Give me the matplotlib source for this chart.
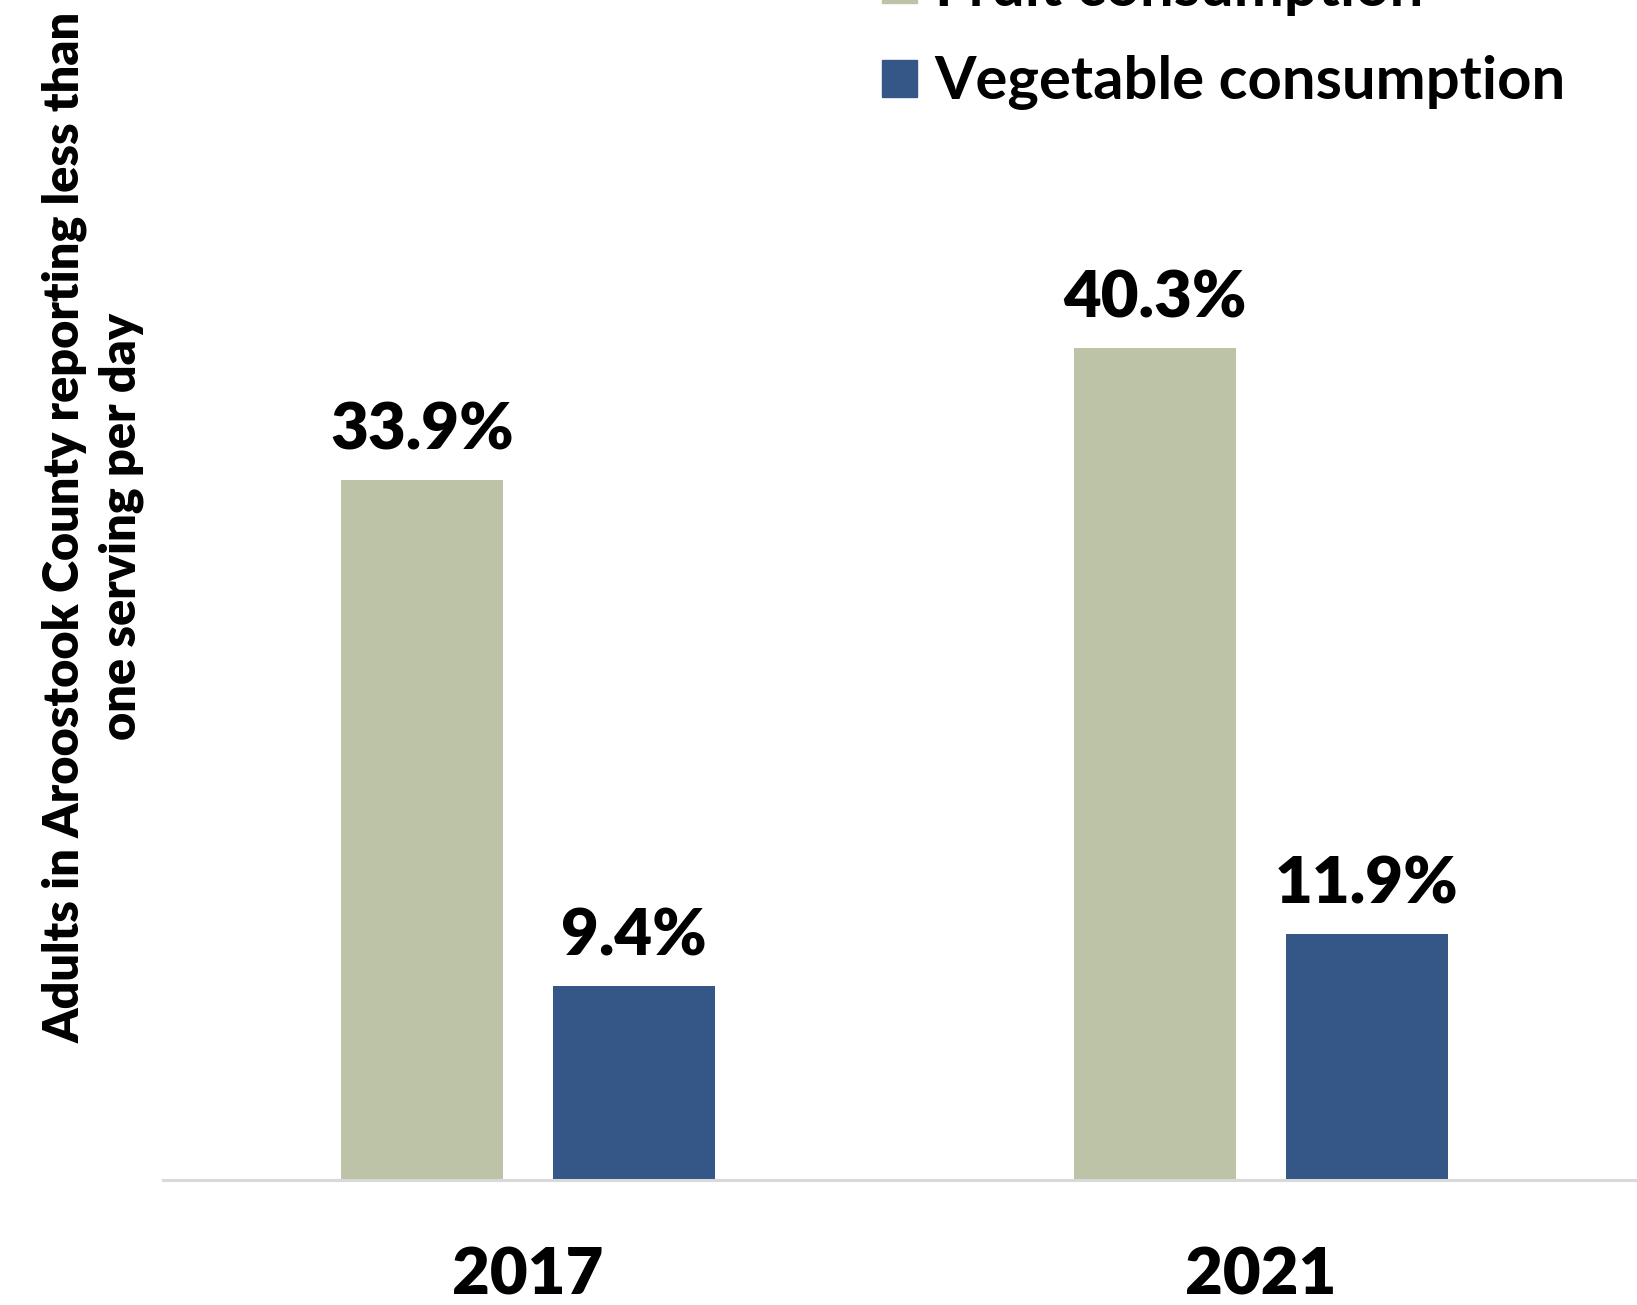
import matplotlib
matplotlib.use("Agg")
import matplotlib.pyplot as plt
from matplotlib.patches import Patch
import numpy as np

years = ["2017", "2021"]
series_names = ["Fruit consumption", "Vegetable consumption"]
fruit = [33.9, 40.3]
vegetable = [9.4, 11.9]
colors = ["#BCC3A6", "#345788"]

plt.rcParams["font.family"] = ["Lato", "DejaVu Sans"]
plt.rcParams["font.weight"] = "bold"

W, H = 1637, 1305
fig = plt.figure(figsize=(W / 100, H / 100), dpi=100)
ax = fig.add_axes([163 / W, 125 / H, 1 - 163 / W, 1 - 125 / H])

x = np.arange(len(years))
bw = 0.221
off = 0.1446
b1 = ax.bar(x - off, fruit, bw, color=colors[0])
b2 = ax.bar(x + off, vegetable, bw, color=colors[1])

for bars, vals in ((b1, fruit), (b2, vegetable)):
    for r, v in zip(bars, vals):
        ax.annotate(f"{v}%", (r.get_x() + r.get_width() / 2, v),
                    xytext=(0, 14), textcoords="offset points",
                    ha="center", va="bottom", fontsize=47, fontweight="heavy")

ax.set_xlim(-0.498, 1.513)
ax.set_ylim(0, 57.14)
ax.set_xticks(x)
ax.set_xticklabels(years, fontsize=47, fontweight="heavy")
ax.tick_params(axis="x", length=0, pad=48)
ax.set_yticks([])
for s in ["top", "right", "left"]:
    ax.spines[s].set_visible(False)
ax.spines["bottom"].set_color("#D9D9D9")
ax.spines["bottom"].set_linewidth(2.2)

fig.text(93 / W, 1 - 527 / H,
         "Adults in Aroostook County reporting less than\none serving per day",
         rotation=90, ha="center", va="center", multialignment="center",
         fontsize=35, fontweight="heavy", linespacing=1.3)

handles = [Patch(color=c) for c in colors]
fig.legend(handles, series_names, loc="upper left",
           bbox_to_anchor=(882 / W, 1 + 38 / H), frameon=False,
           fontsize=43, handlelength=0.58, handleheight=0.58,
           handletextpad=0.3, labelspacing=0.66, borderpad=0, borderaxespad=0)

fig.savefig("out.png", dpi=100)
